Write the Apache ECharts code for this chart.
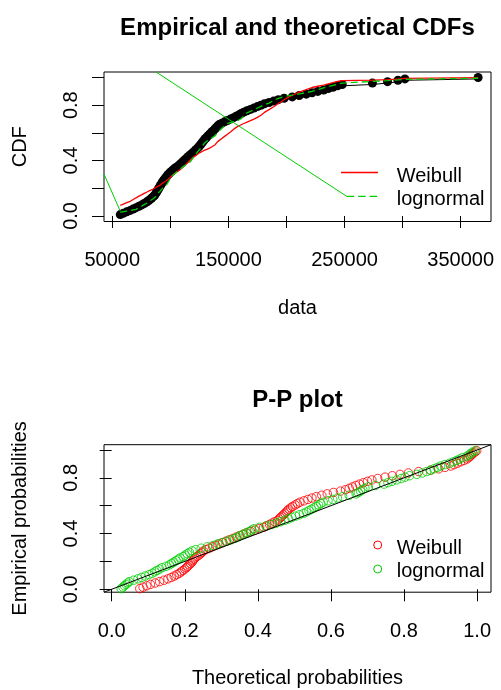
<!DOCTYPE html>
<html><head><meta charset="utf-8">
<script src="https://cdn.jsdelivr.net/npm/echarts@6/dist/echarts.min.js"></script>
<style>html,body{margin:0;padding:0;background:#fff}#c{width:501px;height:690px}</style>
</head><body><div id="c"></div>
<script>
// sorted observed data values (read from the ECDF)
const dataValues = [
56900,59500,62500,65500,68000,70500,73000,75500,77500,79500,
81200,82700,84000,85300,86500,87300,88000,88700,89400,90100,
90800,91500,92200,92900,93600,94500,95400,96300,97200,98200,
99400,100600,101900,103200,104800,106500,108000,109300,110500,111700,
113000,114300,115600,117000,118400,119700,121000,122200,123400,124600,
125600,126500,127400,128300,129200,130300,131400,132600,133800,135000,
136200,137400,138600,139700,140800,142000,144300,146700,149200,151800,
154500,156700,158900,161000,163200,166000,169000,172000,175000,178000,
181000,185000,189000,193000,198000,205000,211000,217000,222000,227000,
232000,236000,240000,244000,248000,274000,287000,296000,302000,365000];
// fitted Weibull CDF at each data value
const weibullProb = [
0.077,0.086,0.096,0.106,0.119,0.131,0.143,0.154,0.163,0.171,
0.178,0.185,0.190,0.195,0.200,0.205,0.208,0.212,0.216,0.220,
0.222,0.225,0.228,0.233,0.239,0.243,0.247,0.251,0.258,0.267,
0.276,0.285,0.294,0.304,0.313,0.322,0.332,0.341,0.350,0.360,
0.369,0.380,0.392,0.404,0.416,0.424,0.432,0.439,0.446,0.454,
0.458,0.462,0.466,0.470,0.474,0.478,0.481,0.485,0.490,0.495,
0.502,0.508,0.515,0.526,0.537,0.548,0.560,0.575,0.590,0.607,
0.626,0.640,0.650,0.659,0.668,0.678,0.689,0.700,0.712,0.728,
0.748,0.768,0.789,0.812,0.840,0.872,0.895,0.912,0.928,0.937,
0.946,0.955,0.964,0.972,0.977,0.981,0.985,0.989,0.994,0.999];
// fitted lognormal CDF at each data value
const lognormalProb = [
0.026,0.031,0.035,0.039,0.044,0.048,0.060,0.072,0.082,0.092,
0.102,0.111,0.118,0.124,0.131,0.138,0.149,0.158,0.164,0.170,
0.176,0.182,0.187,0.196,0.201,0.207,0.213,0.220,0.230,0.245,
0.262,0.278,0.290,0.302,0.314,0.326,0.337,0.345,0.352,0.360,
0.368,0.376,0.383,0.390,0.405,0.422,0.438,0.450,0.462,0.474,
0.484,0.493,0.503,0.514,0.525,0.533,0.540,0.547,0.554,0.560,
0.566,0.572,0.579,0.592,0.605,0.618,0.632,0.650,0.669,0.675,
0.681,0.687,0.693,0.702,0.722,0.745,0.756,0.767,0.780,0.792,
0.803,0.815,0.835,0.850,0.862,0.873,0.882,0.891,0.900,0.912,
0.925,0.935,0.944,0.952,0.960,0.972,0.978,0.983,0.987,0.995];
// stray green segments seen in the CDF panel
const strayLineA = [[42900,0.303],[56900,0.034]];
const strayLineB = [[86810,1.045],[251860,0.142]];
const xTicksTop = [50000,100000,150000,200000,250000,300000,350000];
const xLabelsTop = [50000,150000,250000,350000];
const probTicks = [0,0.2,0.4,0.6,0.8,1];
const probLabelsY = [0,0.4,0.8];
const seriesNames = ['Weibull','lognormal'];
const titles = ['Empirical and theoretical CDFs','P-P plot'];

const n = dataValues.length;
const ecdfPts = dataValues.map((v,i)=>[v,(i+1)/n]);
const ppEmp = dataValues.map((v,i)=>(i+0.5)/n);
const FONT = '"Liberation Sans", Arial, Helvetica, sans-serif';
const RED = '#FF0000', GREEN = '#00CD00';
const txt = {fontSize:20,color:'#000',fontFamily:FONT};
const ppMin = -0.021, ppMax = 1.038;

function valAxis(gi, min, max, ticks, labels, name, fmt, isY){
  return {
    type:'value', gridIndex:gi, min:min, max:max,
    axisLine:{show:false},
    axisTick:{show:true,inside:false,length:12,lineStyle:{color:'#000',width:1},customValues:ticks},
    axisLabel:Object.assign({customValues:labels,margin:isY?23:29,formatter:fmt,rotate:isY?90:0},txt),
    splitLine:{show:false},
    name:name, nameLocation:'middle', nameGap:isY?74:76.5,
    nameTextStyle:txt
  };
}

const chart = echarts.init(document.getElementById('c'),null,{renderer:'canvas'});
chart.setOption({
  animation:false,
  backgroundColor:'#fff',
  title:[
    {text:titles[0],left:297.5,top:16,textAlign:'center',padding:0,
     textStyle:{fontSize:24,fontWeight:'bold',color:'#000',fontFamily:FONT}},
    {text:titles[1],left:297.5,top:388,textAlign:'center',padding:0,
     textStyle:{fontSize:24,fontWeight:'bold',color:'#000',fontFamily:FONT}}
  ],
  grid:[
    {left:104,top:72,width:387,height:149.5,show:true,borderColor:'#000',borderWidth:1,backgroundColor:'transparent',containLabel:false,outerBoundsMode:'none'},
    {left:104,top:444.7,width:387,height:147.5,show:true,borderColor:'#000',borderWidth:1,backgroundColor:'transparent',containLabel:false,outerBoundsMode:'none'}
  ],
  xAxis:[
    valAxis(0,42900,376100,xTicksTop,xLabelsTop,'data',v=>String(v),false),
    valAxis(1,ppMin,ppMax,probTicks,probTicks,'Theoretical probabilities',v=>v.toFixed(1),false)
  ],
  yAxis:[
    valAxis(0,-0.04,1.04,probTicks,probLabelsY,'CDF',v=>v.toFixed(1),true),
    valAxis(1,ppMin,ppMax,probTicks,probLabelsY,'Empirical probabilities',v=>v.toFixed(1),true)
  ],
  series:[
    {type:'line',xAxisIndex:0,yAxisIndex:0,data:ecdfPts,step:'end',symbol:'circle',symbolSize:9,showSymbol:true,showAllSymbol:true,
     itemStyle:{color:'#000'},lineStyle:{color:'#000',width:1},z:2},
    {type:'line',xAxisIndex:0,yAxisIndex:0,name:seriesNames[0],data:dataValues.map((v,i)=>[v,weibullProb[i]]),
     symbol:'none',lineStyle:{color:RED,width:1.3},z:3},
    {type:'line',xAxisIndex:0,yAxisIndex:0,name:seriesNames[1],data:dataValues.map((v,i)=>[v,lognormalProb[i]]),
     symbol:'none',lineStyle:{color:GREEN,width:1.3,type:[7,4]},z:4},
    {type:'line',xAxisIndex:0,yAxisIndex:0,data:strayLineA,symbol:'none',clip:true,lineStyle:{color:GREEN,width:1},z:4},
    {type:'line',xAxisIndex:0,yAxisIndex:0,data:strayLineB,symbol:'none',clip:true,lineStyle:{color:GREEN,width:1},z:4},
    {type:'scatter',xAxisIndex:1,yAxisIndex:1,name:seriesNames[0],data:weibullProb.map((t,i)=>[t,ppEmp[i]]),
     symbol:'circle',symbolSize:8.5,itemStyle:{color:'rgba(0,0,0,0)',borderColor:RED,borderWidth:1},z:2},
    {type:'scatter',xAxisIndex:1,yAxisIndex:1,name:seriesNames[1],data:lognormalProb.map((t,i)=>[t,ppEmp[i]]),
     symbol:'circle',symbolSize:8.5,itemStyle:{color:'rgba(0,0,0,0)',borderColor:GREEN,borderWidth:1},z:3},
    {type:'line',xAxisIndex:1,yAxisIndex:1,data:[[ppMin,ppMin],[ppMax,ppMax]],symbol:'none',clip:true,lineStyle:{color:'#000',width:1},z:4}
  ],
  graphic:[
    {type:'line',shape:{x1:341,y1:172.5,x2:378,y2:172.5},style:{stroke:RED,lineWidth:1.3},z:10},
    {type:'line',shape:{x1:346.7,y1:196.3,x2:377.5,y2:196.3},style:{stroke:GREEN,lineWidth:1.3,lineDash:[7.5,4]},z:10},
    {type:'text',x:396.7,y:176,style:{text:seriesNames[0],fill:'#000',font:'20px '+FONT,textAlign:'left',textVerticalAlign:'middle',verticalAlign:'middle'},z:10},
    {type:'text',x:396.7,y:199.8,style:{text:seriesNames[1],fill:'#000',font:'20px '+FONT,textAlign:'left',textVerticalAlign:'middle',verticalAlign:'middle'},z:10},
    {type:'circle',shape:{cx:377.7,cy:545,r:4},style:{fill:'none',stroke:RED,lineWidth:1},z:10},
    {type:'circle',shape:{cx:377.7,cy:569,r:4},style:{fill:'none',stroke:GREEN,lineWidth:1},z:10},
    {type:'text',x:396.7,y:548,style:{text:seriesNames[0],fill:'#000',font:'20px '+FONT,textAlign:'left',textVerticalAlign:'middle',verticalAlign:'middle'},z:10},
    {type:'text',x:396.7,y:571.5,style:{text:seriesNames[1],fill:'#000',font:'20px '+FONT,textAlign:'left',textVerticalAlign:'middle',verticalAlign:'middle'},z:10}
  ]
});
</script></body></html>
